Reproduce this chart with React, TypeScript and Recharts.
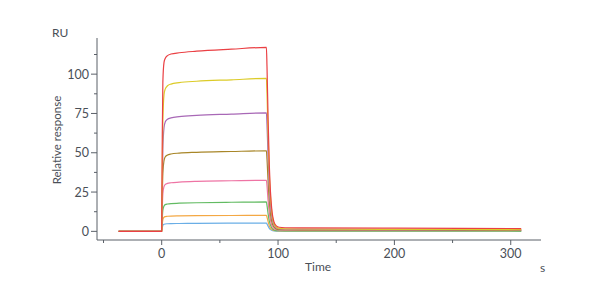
import { LineChart, Line, XAxis, YAxis } from 'recharts';

// sensorgram: time (s) and response (RU) for each concentration
const time = [-37, 0, 0.5, 1, 2, 3, 5, 8, 15, 30, 60, 90, 90.5, 91.5, 92.5, 93.5, 94.5, 96.5, 98.5, 101, 106, 120, 200, 309];

const blue = [0, 0, 2.2, 3.8, 4.5, 4.7, 4.85, 4.95, 5.0, 5.1, 5.2, 5.3, 4.7, 3.2, 1.9, 1.1, 0.7, 0.3, 0.2, 0.2, 0.2, 0.2, 0.2, 0.2];
const orange = [0, 0, 4.5, 7.5, 9, 9.4, 9.6, 9.75, 9.85, 9.95, 10.1, 10.2, 9, 6, 3.5, 2.1, 1.3, 0.6, 0.4, 0.3, 0.3, 0.3, 0.3, 0.3];
const green = [0, 0, 8, 13.5, 16.2, 17, 17.4, 17.7, 17.9, 18.2, 18.5, 18.7, 16.5, 11, 6.5, 4, 2.3, 0.9, 0.5, 0.4, 0.3, 0.3, 0.3, 0.2];
const pink = [0, 0, 14, 24, 28.5, 29.8, 30.5, 30.9, 31.3, 31.8, 32.2, 32.5, 29, 19, 11.5, 7, 4, 1.7, 1.1, 0.9, 0.8, 0.8, 0.7, 0.7];
const olive = [0, 0, 22, 37, 45, 47.3, 48.5, 49.2, 49.8, 50.3, 50.8, 51.2, 46, 31, 19, 11, 6.5, 2.7, 1.6, 1.2, 1.1, 1.0, 0.9, 0.8];
const purple = [0, 0, 30, 52, 66, 69.5, 71.3, 72.2, 73, 73.8, 74.6, 75.4, 68, 46, 28, 17, 10, 4, 2.2, 1.5, 1.3, 1.2, 1.1, 1.0];
const yellow = [0, 0, 40, 70, 87, 90.5, 92.6, 93.7, 94.6, 95.5, 96.4, 97.3, 88, 60, 37, 22, 13, 5, 2.8, 1.9, 1.6, 1.5, 1.3, 1.1];
const red = [0, 0, 60, 95, 107.5, 110, 111.8, 112.8, 113.6, 114.6, 115.9, 117, 105, 70, 42, 25, 15, 6, 3.5, 2.6, 2.3, 2.2, 2.0, 1.8];

const xTicks = [-50, 0, 50, 100, 150, 200, 250, 300];
const yTicks = [0, 12.5, 25, 37.5, 50, 62.5, 75, 87.5, 100, 112.5];

const series = [
  { key: 'blue', values: blue, color: '#6aaee6' },
  { key: 'orange', values: orange, color: '#f4a844' },
  { key: 'green', values: green, color: '#62bb62' },
  { key: 'pink', values: pink, color: '#ee74a4' },
  { key: 'olive', values: olive, color: '#a88628' },
  { key: 'purple', values: purple, color: '#a868b6' },
  { key: 'yellow', values: yellow, color: '#dccb28' },
  { key: 'red', values: red, color: '#ea4044' },
];

const data = time.map((t, i) => {
  const row: Record<string, number> = { t };
  series.forEach((s) => (row[s.key] = s.values[i]));
  return row;
});

const axisColor = '#5a6068';
const textColor = '#4a4f57';
const font = 'Lato, sans-serif';

function YTick({ x, y, payload }: any) {
  const major = payload.value % 25 === 0;
  return (
    <g>
      <line x1={x - (major ? 6 : 3)} x2={x} y1={y} y2={y} stroke={axisColor} />
      {major && (
        <text x={x - 8} y={y} dy={4.5} textAnchor="end" fontSize={12.5} fill={textColor} fontFamily={font}>
          {payload.value}
        </text>
      )}
    </g>
  );
}

function XTick({ x, y, payload }: any) {
  const major = payload.value % 100 === 0;
  return (
    <g>
      <line x1={x} x2={x} y1={y} y2={y + (major ? 5 : 3)} stroke={axisColor} />
      {major && (
        <text x={x} y={y + 18} textAnchor="middle" fontSize={12.5} fill={textColor} fontFamily={font}>
          {payload.value}
        </text>
      )}
    </g>
  );
}

const labelStyle = { position: 'absolute' as const, fontFamily: font, color: textColor, fontSize: 12, lineHeight: '14px' };

export default function App() {
  return (
    <div style={{ position: 'absolute', left: 0, top: 0, width: 600, height: 300, background: '#fff' }}>
      <LineChart width={600} height={300} data={data} margin={{ top: 38, right: 59, left: 57, bottom: 30 }}>
        <XAxis
          dataKey="t"
          type="number"
          domain={[-55.6, 326]}
          ticks={xTicks}
          interval={0}
          tick={<XTick />}
          tickSize={0}
          tickMargin={0}
          height={30}
          stroke={axisColor}
          allowDataOverflow
        />
        <YAxis
          type="number"
          domain={[-5.5, 123]}
          ticks={yTicks}
          interval={0}
          tick={<YTick />}
          tickSize={0}
          tickMargin={0}
          width={40}
          stroke={axisColor}
          allowDataOverflow
        />
        {series.map((s) => (
          <Line
            key={s.key}
            dataKey={s.key}
            type="monotone"
            stroke={s.color}
            strokeWidth={1.2}
            dot={false}
            isAnimationActive={false}
          />
        ))}
      </LineChart>
      <div style={{ ...labelStyle, left: 52, top: 26 }}>RU</div>
      <div style={{ ...labelStyle, left: 305, top: 260 }}>Time</div>
      <div style={{ ...labelStyle, left: 540, top: 261 }}>s</div>
      <div
        style={{
          ...labelStyle,
          fontSize: 11.5,
          left: 57,
          top: 140,
          transform: 'translate(-50%, -50%) rotate(-90deg)',
          whiteSpace: 'nowrap',
        }}
      >
        Relative response
      </div>
    </div>
  );
}
